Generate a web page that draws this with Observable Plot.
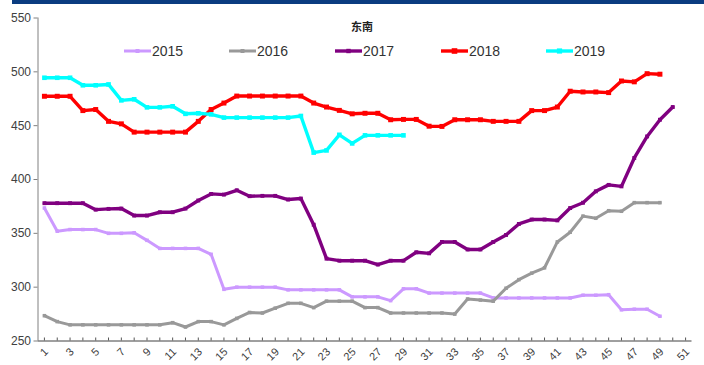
<!DOCTYPE html>
<html>
<head>
<meta charset="utf-8">
<script src="https://cdn.jsdelivr.net/npm/d3@7"></script>
<script src="https://cdn.jsdelivr.net/npm/@observablehq/plot@0.6"></script>
<style>
  html, body { margin: 0; padding: 0; background: #fff; }
  #wrap { position: relative; width: 704px; height: 365px; overflow: hidden; }
  #topbar { position: absolute; left: 12px; right: 0; top: 0; height: 4px; background: #0a3c80; }
  #title { position: absolute; left: 342px; width: 40px; top: 18px; text-align: center;
           font: bold 11px "Noto Sans CJK SC", sans-serif; color: #222; }
  .item { position: absolute; top: 42px; height: 18px; display: flex; align-items: center; }
  .item span { font: 14px "Liberation Sans Narrow", "Arial Narrow", "Liberation Sans", Arial, sans-serif; color: #333; margin-left: 1px; }
  svg text { font-family: "Liberation Sans Narrow", "Arial Narrow", "Liberation Sans", Arial, sans-serif; }
</style>
</head>
<body>
<div id="wrap">
  <div id="chart"></div>
  <div id="topbar"></div>
  <div id="title">东南</div>
  <div id="legend"></div>
</div>
<script>
// Weekly price, 东南 region, one series per year (week 1..51 on the x axis)
const weeks = Array.from({length: 51}, (_, i) => i + 1);
const years = ["2015", "2016", "2017", "2018", "2019"];
const colors = ["#cc99ff", "#999999", "#800080", "#ff0000", "#00ffff"];
const yTicks = [250, 300, 350, 400, 450, 500, 550];

const s2015 = [373.5,352,353.5,353.5,353.5,350,350,350.5,343.5,336,336,336,336,330.5,298,300,300,300,300,297.5,
  297.5,297.5,297.5,297.5,291,291,291,287.5,298.5,298.5,294.5,294.5,294.5,294.5,294.5,290,290,290,290,290,
  290,290,292.5,292.5,293,279,279.5,279.5,273];
const s2016 = [273.5,268,265,265,265,265,265,265,265,265,267,263,268,268,265,271,276.5,276,280.5,285,
  285,281,287,287,287,281,281,276,276,276,276,276,275,289,288,287,299,307,313,318,
  342,351,366,364,371,370.5,378.5,378.5,378.5];
const s2017 = [378,378,378,378,372,372.7,373,366.5,366.5,369.6,369.6,373,380.5,386.6,386,390,384.5,384.8,384.8,381.4,
  382.3,358,326.5,324.6,324.6,324.6,321,324.6,324.6,332.4,331.4,342,342,335,335,342,348.5,358.7,362.8,362.8,
  362,373.5,378.4,389,395,393.6,420,440,455.5,467.3];
const s2018 = [477.3,477.3,477.3,464,465,454,451.7,444,444,444,444,444,454,465,471,477.5,477.5,477.5,477.5,477.5,
  477.5,471,467.3,464.2,461,461.5,461.5,455.5,455.8,455.8,449.5,449.3,455.5,455.5,455.5,454,454,454,464,464,
  467.3,482,481.3,481.3,480.7,491.5,490.7,498.3,497.8];
const s2019 = [494.5,494.5,494.5,487.5,487.5,488.3,473.5,474.5,467,467,468,461,461.5,460.5,457.5,457.5,457.5,457.5,457.5,457.5,
  459,425,427,441.5,433.5,441,441,441,441];

const seriesList = [s2015, s2016, s2017, s2018, s2019];
const widths = [3, 3, 3.4, 3.4, 3.4];
const markR = [2, 2, 2.2, 2.8, 2.6];

const marks = [
  Plot.ruleX([0.5], {stroke: "#808080", strokeWidth: 1}),
  Plot.ruleY([250], {stroke: "#404040", strokeWidth: 1}),
  Plot.axisY({ticks: yTicks, tickSize: 4, tickPadding: 3, stroke: "#808080", fill: "#404040", fontSize: 12, label: null}),
  Plot.axisX({ticks: weeks, tickSize: -3, stroke: "#555", label: null, tickFormat: () => ""}),
  Plot.axisX({ticks: weeks.filter(w => w % 2), tickSize: 0, tickPadding: 9, tickRotate: -45, dx: 2,
    fontSize: 11, fill: "#404040", label: null})
];
seriesList.forEach((vals, k) => {
  const rows = vals.map((v, i) => ({week: weeks[i], value: v}));
  marks.push(Plot.line(rows, {x: "week", y: "value", stroke: colors[k], strokeWidth: widths[k], curve: "linear"}));
  marks.push(Plot.dot(rows, {x: "week", y: "value", symbol: "square", r: markR[k], fill: colors[k], stroke: "none"}));
});

const chart = Plot.plot({
  width: 704,
  height: 365,
  marginLeft: 37.5,
  marginRight: 12.5,
  marginTop: 17.5,
  marginBottom: 24.5,
  x: {type: "linear", domain: [0.5, 51.5]},
  y: {domain: [250, 550]},
  style: {background: "transparent"},
  marks
});
document.getElementById("chart").append(chart);

// Legend: short line with a marker, then the year
const legendLeft = [124, 229, 335, 441, 546];
const legend = document.getElementById("legend");
years.forEach((yr, k) => {
  const item = document.createElement("div");
  item.className = "item";
  item.style.left = legendLeft[k] + "px";
  item.innerHTML =
    `<svg width="27" height="10"><line x1="0" y1="5" x2="27" y2="5" stroke="${colors[k]}" stroke-width="${widths[k]}"/>` +
    `<rect x="${13.5 - markR[k]}" y="${5 - markR[k]}" width="${2 * markR[k]}" height="${2 * markR[k]}" fill="${colors[k]}"/></svg>` +
    `<span>${yr}</span>`;
  legend.append(item);
});
</script>
</body>
</html>
